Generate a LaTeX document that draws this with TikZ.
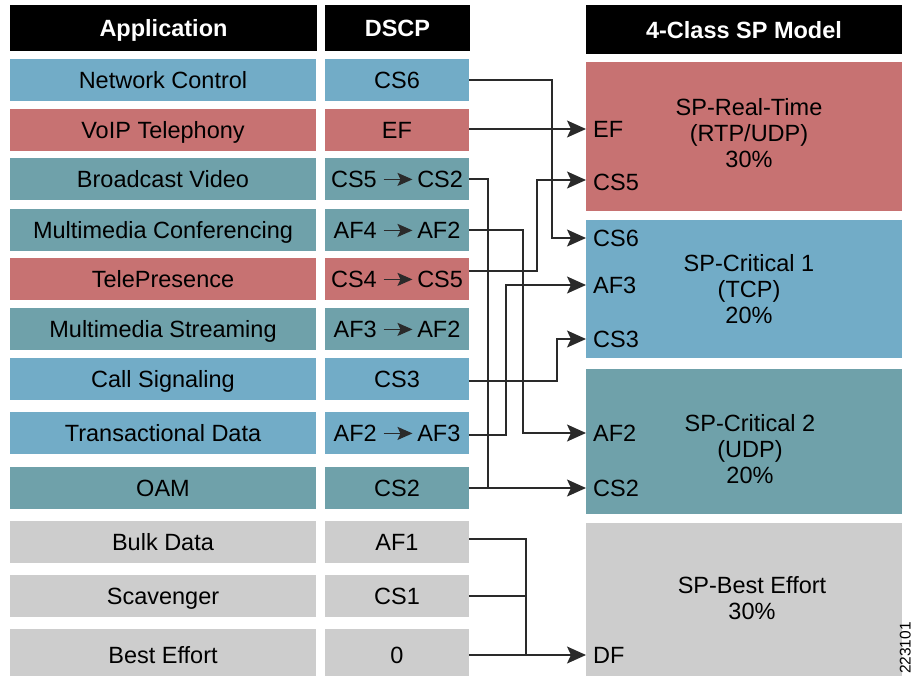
\documentclass[tikz,border=0pt]{standalone}
\usepackage{fontspec}
\setmainfont{Liberation Sans}
\usetikzlibrary{arrows.meta}
\definecolor{cblue}{HTML}{72ACC7}
\definecolor{cred}{HTML}{C77272}
\definecolor{cteal}{HTML}{6FA1AA}
\definecolor{cgray}{HTML}{CDCDCD}
\definecolor{cline}{HTML}{2A2A2A}
\newcommand{\inarr}{\tikz[x=1cm,y=1cm,baseline=-8pt]\draw[line width=1.5pt,cline,-{Stealth[length=15pt,width=13pt,inset=3pt]}] (0,0) -- (29pt,0);}
\newcommand{\dd}[2]{#1\hspace{6pt}\inarr\hspace{4pt}#2}
\begin{document}
\begin{tikzpicture}[x=1pt,y=-1pt,
  txt/.style={font=\fontsize{23.5}{26}\selectfont, text=black},
  hdr/.style={fill=black, text=white, font=\fontsize{23.5}{26}\selectfont\bfseries, inner sep=0pt, text height=17pt, text depth=0pt, draw=none},
  appbox/.style={txt, inner sep=0pt, minimum width=306pt, minimum height=42pt, text height=16.8pt, text depth=0pt},
  dsbox/.style={appbox, minimum width=144pt},
  cls/.style={inner sep=0pt, minimum width=316pt},
  lab/.style={txt, anchor=west, inner sep=0pt, text height=16.8pt, text depth=0pt},
  mid/.style={txt, align=center, inner sep=0pt},
  conn/.style={draw=cline, line width=1.5pt},
  arr/.style={conn, -{Stealth[length=19pt,width=17pt,inset=4pt]}}
]
\useasboundingbox (0,0) rectangle (916,675);
% headers
\node[hdr, minimum width=307pt, minimum height=46pt] (happ) at (163.5,28) {Application};
\node[hdr, minimum width=145pt, minimum height=46pt] (hds) at (397.5,28) {DSCP};
\node[hdr, minimum width=316pt, minimum height=49pt] (hcl) at (744,29.5) {4-Class SP Model};
% application column
\node[appbox, fill=cblue] (a1) at (163,80) {Network Control};
\node[appbox, fill=cred]  (a2) at (163,130) {VoIP Telephony};
\node[appbox, fill=cteal] (a3) at (163,179) {Broadcast Video};
\node[appbox, fill=cteal] (a4) at (163,230) {Multimedia Conferencing};
\node[appbox, fill=cred]  (a5) at (163,279) {TelePresence};
\node[appbox, fill=cteal] (a6) at (163,329) {Multimedia Streaming};
\node[appbox, fill=cblue] (a7) at (163,379) {Call Signaling};
\node[appbox, fill=cblue] (a8) at (163,433) {Transactional Data};
\node[appbox, fill=cteal] (a9) at (163,488) {OAM};
\node[appbox, fill=cgray] (a10) at (163,542) {Bulk Data};
\node[appbox, fill=cgray] (a11) at (163,596) {Scavenger};
\node[appbox, fill=cgray, minimum height=48pt] (a12) at (163,653) {\raisebox{-2pt}{Best Effort}};
% dscp column
\node[dsbox, fill=cblue] (d1) at (397,80) {CS6};
\node[dsbox, fill=cred]  (d2) at (397,130) {EF};
\node[dsbox, fill=cteal] (d3) at (397,179) {\dd{CS5}{CS2}};
\node[dsbox, fill=cteal] (d4) at (397,230) {\dd{AF4}{AF2}};
\node[dsbox, fill=cred]  (d5) at (397,279) {\dd{CS4}{CS5}};
\node[dsbox, fill=cteal] (d6) at (397,329) {\dd{AF3}{AF2}};
\node[dsbox, fill=cblue] (d7) at (397,379) {CS3};
\node[dsbox, fill=cblue] (d8) at (397,433) {\dd{AF2}{AF3}};
\node[dsbox, fill=cteal] (d9) at (397,488) {CS2};
\node[dsbox, fill=cgray] (d10) at (397,542) {AF1};
\node[dsbox, fill=cgray] (d11) at (397,596) {CS1};
\node[dsbox, fill=cgray, minimum height=48pt] (d12) at (397,653) {\raisebox{-2pt}{0}};
% class boxes
\node[cls, fill=cred,  minimum height=149pt] (c1) at (744,136.5) {};
\node[cls, fill=cblue, minimum height=138pt] (c2) at (744,289) {};
\node[cls, fill=cteal, minimum height=145pt] (c3) at (744,441.5) {};
\node[cls, fill=cgray, minimum height=156pt] (c4) at (744,601) {};
\node[mid] (m1) at (749,133) {SP-Real-Time\\(RTP/UDP)\\30\%};
\node[mid] (m2) at (749,289) {SP-Critical 1\\(TCP)\\20\%};
\node[mid] (m3) at (750,449) {SP-Critical 2\\(UDP)\\20\%};
\node[mid] (m4) at (752,598) {SP-Best Effort\\30\%};
% class entry labels
\node[lab] (lEF)  at (590,129) {\hspace{3pt}EF};
\node[lab] (lCS5) at (590,182) {\hspace{3pt}CS5};
\node[lab] (lCS6) at (590,238) {\hspace{3pt}CS6};
\node[lab] (lAF3) at (590,285) {\hspace{3pt}AF3};
\node[lab] (lCS3) at (590,339) {\hspace{3pt}CS3};
\node[lab] (lAF2) at (590,433) {\hspace{3pt}AF2};
\node[lab] (lCS2) at (590,488) {\hspace{3pt}CS2};
\node[lab] (lDF)  at (590,655) {\hspace{3pt}DF};
% corner coordinates
\coordinate (k1) at (552,238);
\coordinate (k3) at (488,488);
\coordinate (k4) at (523,433);
\coordinate (k5) at (537,180);
\coordinate (k7) at (557,339);
\coordinate (k8) at (506,285);
\coordinate (k10) at (526,655);
\coordinate (k11) at (526,596);
% connectors
\draw[arr] (d1.east) -| (k1) -- ([xshift=-4pt]lCS6.west);
\draw[arr] (d2.east |- lEF.west) -- ([xshift=-4pt]lEF.west);
\draw[conn] (d3.east) -| (k3);
\draw[arr] (d4.east) -| (k4) -- ([xshift=-4pt]lAF2.west);
\draw[arr] ([yshift=8pt]d5.east) -| (k5) -- ([xshift=-4pt]k5 -| lCS5.west);
\draw[arr] ([yshift=-2pt]d7.east) -| (k7) -- ([xshift=-4pt]lCS3.west);
\draw[arr] ([yshift=-2pt]d8.east) -| (k8) -- ([xshift=-4pt]lAF3.west);
\draw[arr] (d9.east) -- ([xshift=-4pt]lCS2.west);
\draw[conn] ([yshift=3pt]d10.east) -| (k10);
\draw[conn] (d11.east) -- (k11);
\draw[arr] (d12.east |- lDF.west) -- ([xshift=-4pt]lDF.west);
% figure id
\node[rotate=90, anchor=south east, font=\fontsize{15.5}{16}\selectfont, inner sep=0pt] (fid) at (911,622) {223101};
\end{tikzpicture}
\end{document}
